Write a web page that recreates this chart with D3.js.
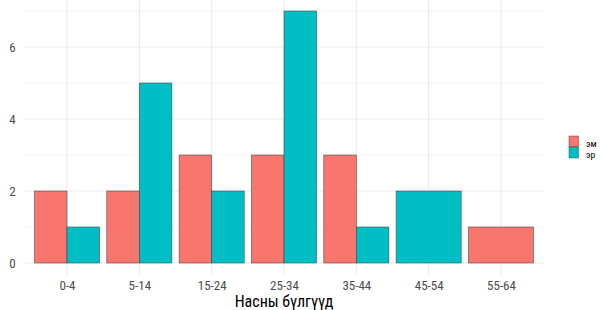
<!DOCTYPE html>
<html><head><meta charset="utf-8">
<script src="https://cdn.jsdelivr.net/npm/d3@7"></script>
<style>body{margin:0;background:#fff}svg{display:block}text{font-family:"Roboto Condensed","Liberation Sans Narrow","Roboto",sans-serif}</style>
</head><body>
<script>
const categories = ["0-4","5-14","15-24","25-34","35-44","45-54","55-64"];
const seriesNames = ["эм","эр"];
const emValues = [2,2,3,3,3,null,1];
const erValues = [1,5,2,7,1,2,null];
const yTicks = [0,2,4,6];
const colors = {"эм":"#F8766D","эр":"#00BFC4"};

const W=602,H=310;
const svg=d3.select("body").append("svg").attr("width",W).attr("height",H);
const left=23.6,right=544.4;
const xc=d3.scalePoint().domain(categories).range([67,501]);
const step=(501-67)/6, bw=step*0.9;
const y=d3.scaleLinear().domain([-0.35,7.35]).range([275.6,-1.6]);

const g=svg.append("g");
[1,3,5,7].forEach(v=>g.append("line").attr("x1",left).attr("x2",right).attr("y1",y(v)).attr("y2",y(v)).attr("stroke","#EBEBEB").attr("stroke-width",0.55));
yTicks.forEach(v=>g.append("line").attr("x1",left).attr("x2",right).attr("y1",y(v)).attr("y2",y(v)).attr("stroke","#EBEBEB").attr("stroke-width",1.1));
categories.forEach(c=>g.append("line").attr("x1",xc(c)).attr("x2",xc(c)).attr("y1",y(-0.35)).attr("y2",y(7.35)).attr("stroke","#EBEBEB").attr("stroke-width",1.1));

const rows=[];
categories.forEach((c,i)=>{
  const vals=[["эм",emValues[i]],["эр",erValues[i]]].filter(d=>d[1]!=null);
  const n=vals.length, w=bw/n;
  vals.forEach((d,j)=>rows.push({c,s:d[0],v:d[1],x0:xc(c)-bw/2+j*w,w}));
});
g.selectAll("rect.bar").data(rows).join("rect").attr("class","bar")
 .attr("x",d=>d.x0).attr("width",d=>d.w).attr("y",d=>y(d.v)).attr("height",d=>y(0)-y(d.v))
 .attr("fill",d=>colors[d.s]).attr("stroke","#333333").attr("stroke-opacity",0.8).attr("stroke-width",0.6);

const ya=svg.append("g").attr("transform",`translate(${left},0)`).call(d3.axisLeft(y).tickValues(yTicks).tickSize(0).tickPadding(8));
ya.select(".domain").remove();
ya.selectAll("text").attr("fill","#4D4D4D").attr("font-size",13);
const xa=svg.append("g").attr("transform",`translate(0,${y(-0.35)})`).call(d3.axisBottom(xc).tickSize(0).tickPadding(5));
xa.select(".domain").remove();
xa.selectAll("text").attr("fill","#4D4D4D").attr("font-size",13);
svg.append("text").attr("x",(left+right)/2).attr("y",307).attr("text-anchor","middle").attr("font-size",16).attr("fill","#000").text("Насны бүлгүүд");

const lg=svg.append("g").attr("transform","translate(569,136)");
seriesNames.forEach((s,i)=>{
  lg.append("rect").attr("x",0).attr("y",i*11).attr("width",9.5).attr("height",11).attr("fill",colors[s]).attr("stroke","#333").attr("stroke-opacity",0.7).attr("stroke-width",0.6);
  lg.append("text").attr("x",17).attr("y",i*11+10.5).attr("font-size",9.5).attr("fill","#000").text(s);
});
</script>
</body></html>
